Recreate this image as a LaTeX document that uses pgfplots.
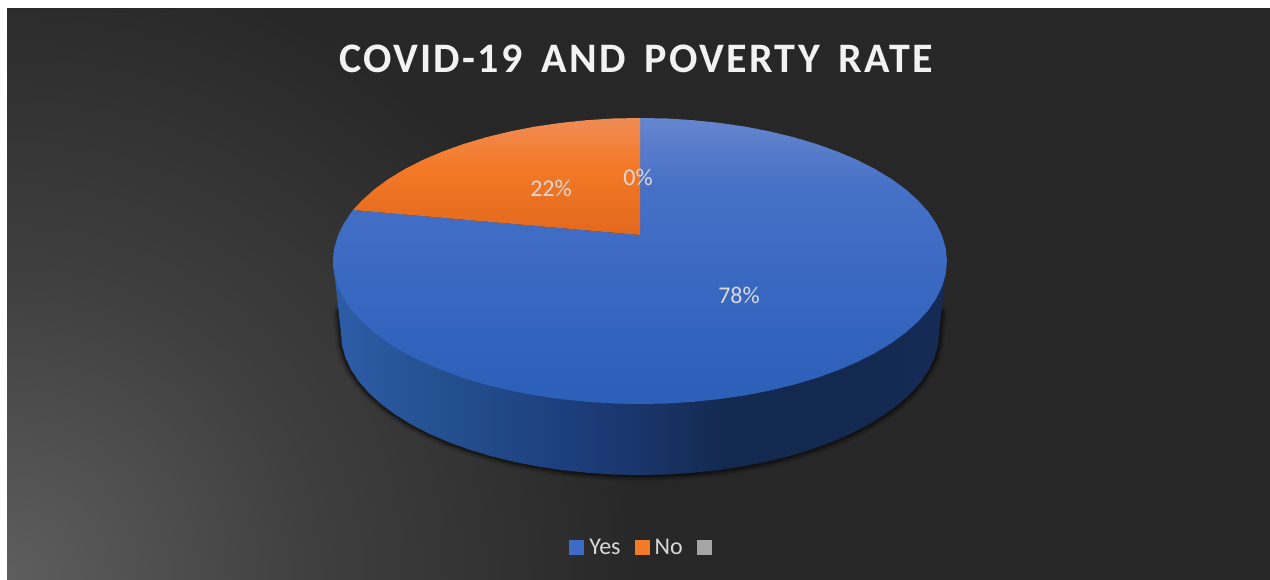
\documentclass[border=0pt]{standalone}
\usepackage{pgfplots}
\pgfplotsset{compat=1.18}
\usepackage{fontspec}
\setmainfont{Carlito}
\newfontfamily\titlefont[LetterSpace=5.5,WordSpace=1.6]{Carlito}
\newcommand{\blankentry}{\mbox{}}
\newcommand{\legfont}{\fontsize{24}{28}\selectfont}
\definecolor{bgdark}{HTML}{272727}
\definecolor{lbl}{HTML}{D9D9D9}
\definecolor{legB}{HTML}{3E6CC4}
\definecolor{legO}{HTML}{F47A28}
\definecolor{legG}{HTML}{A5A5A5}
\definecolor{glA}{HTML}{5E5E5E}
\definecolor{glB}{HTML}{3F3F3F}
\definecolor{glC}{HTML}{272727}
\pgfdeclareradialshading{bgglowb}{\pgfpointorigin}{color(0bp)=(glA);color(12bp)=(glB);color(25bp)=(glC);color(50bp)=(glC)}
\definecolor{btA}{HTML}{6685CE}
\definecolor{btB}{HTML}{4570C6}
\definecolor{btC}{HTML}{3C6AC3}
\definecolor{btD}{HTML}{2B5FB8}
\pgfdeclareverticalshading{bluetop}{100bp}{color(0bp)=(btD);color(25bp)=(btD);color(50bp)=(btC);color(62.5bp)=(btB);color(75bp)=(btA);color(100bp)=(btA)}
\definecolor{otA}{HTML}{EF8C55}
\definecolor{otB}{HTML}{F47A28}
\definecolor{otC}{HTML}{E2681C}
\pgfdeclareverticalshading{orangetop}{100bp}{color(0bp)=(otC);color(25bp)=(otC);color(55bp)=(otB);color(75bp)=(otA);color(100bp)=(otA)}
\definecolor{wA}{HTML}{2D5DA8}
\definecolor{wB}{HTML}{24508F}
\definecolor{wC}{HTML}{1E4080}
\definecolor{wD}{HTML}{19356A}
\definecolor{wE}{HTML}{14294F}
\definecolor{wF}{HTML}{152B57}
\pgfdeclarehorizontalshading{wall}{100bp}{color(0bp)=(wA);color(25bp)=(wA);color(34bp)=(wB);color(43bp)=(wC);color(50bp)=(wD);color(57bp)=(wE);color(68bp)=(wE);color(75bp)=(wF);color(100bp)=(wF)}
\pgfplotsset{squarelegend/.style={legend image code/.code={\fill[##1, draw=none] (0pt,-7.5pt) rectangle (15pt,7.5pt);}}}
\pgfplotstableread{
x y
339 312
341 333
342.1 345.4
345.5 357.7
351.2 369.8
359 381.6
369 393
381.1 404
395.1 414.4
411 424.3
428.6 433.4
447.8 441.8
468.5 449.3
490.5 456
513.6 461.7
537.7 466.4
562.6 470.2
588.1 472.8
613.9 474.5
640 475
666.1 474.5
691.9 472.8
717.4 470.2
742.3 466.4
766.4 461.7
789.5 456
811.5 449.3
832.2 441.8
851.4 433.4
869 424.3
884.9 414.4
898.9 404
911 393
921 381.6
928.8 369.8
934.5 357.7
937.9 345.4
939 333
941 312
}\shadowpts
\pgfplotstableread{
x y
333 261
341 333
342.1 345.4
345.5 357.7
351.2 369.8
359 381.6
369 393
381.1 404
395.1 414.4
411 424.3
428.6 433.4
447.8 441.8
468.5 449.3
490.5 456
513.6 461.7
537.7 466.4
562.6 470.2
588.1 472.8
613.9 474.5
640 475
666.1 474.5
691.9 472.8
717.4 470.2
742.3 466.4
766.4 461.7
789.5 456
811.5 449.3
832.2 441.8
851.4 433.4
869 424.3
884.9 414.4
898.9 404
911 393
921 381.6
928.8 369.8
934.5 357.7
937.9 345.4
939 333
947 261
}\wallpts
\pgfplotstableread{
x y
640 235
640 118
666.8 118.5
693.3 120.2
719.5 122.9
745 126.6
769.7 131.4
793.5 137.2
816.1 143.9
837.3 151.5
857.1 159.9
875.2 169.1
891.5 179
905.9 189.5
918.2 200.6
928.5 212.1
936.5 224
942.3 236.2
945.8 248.5
947 261
945.8 273.5
942.3 285.8
936.5 298
928.5 309.9
918.2 321.4
905.9 332.5
891.5 343
875.2 352.9
857.1 362.1
837.3 370.5
816.1 378.1
793.5 384.8
769.7 390.6
745 395.4
719.5 399.1
693.3 401.8
666.8 403.5
640 404
613.2 403.5
586.7 401.8
560.5 399.1
535 395.4
510.3 390.6
486.5 384.8
463.9 378.1
442.7 370.5
422.9 362.1
404.8 352.9
388.5 343
374.1 332.5
361.8 321.4
351.5 309.9
343.5 298
337.7 285.8
334.2 273.5
333 261
334.2 248.5
337.7 236.2
343.5 224
351.5 212.1
353 210
}\bluepts
\pgfplotstableread{
x y
640 235
353 210
361.8 200.6
374.1 189.5
388.5 179
404.8 169.1
422.9 159.9
442.7 151.5
463.9 143.9
486.5 137.2
510.3 131.4
535 126.6
560.5 122.9
586.7 120.2
613.2 118.5
640 118
}\orangepts
\begin{document}
\begin{tikzpicture}
\begin{axis}[
  at={(0,0)}, anchor=south west,
  scale only axis, width=1270pt, height=580pt,
  xmin=0, xmax=1270, ymin=0, ymax=580, y dir=reverse,
  hide axis, clip=false, no markers,
  legend columns=3,
  legend cell align=left,
  legend style={draw=none, fill=none, at={(0.5071,0.0552)}, anchor=center,
    inner sep=0pt, outer sep=0pt,
    font=\legfont, text=lbl,
    /tikz/every even column/.style={column sep=12pt},
    /tikz/every odd column/.style={column sep=3pt}},
]
\fill[white] (axis cs:0,0) rectangle (axis cs:1270,580);
\fill[bgdark] (axis cs:7,8) rectangle (axis cs:1270,580);
\begin{scope}
\clip (axis cs:7,10) rectangle (axis cs:1270,580);
\shade[shading=bgglowb] (axis cs:7,580) circle [radius=640pt];
\end{scope}
% soft shadow under the wall
\addplot[forget plot, draw=black, opacity=.08, line width=13pt, line join=round, line cap=round] table[x=x,y=y] {\shadowpts};
\addplot[forget plot, draw=black, opacity=.18, line width=9pt, line join=round, line cap=round] table[x=x,y=y] {\shadowpts};
\addplot[forget plot, draw=black, opacity=.35, line width=5pt, line join=round, line cap=round] table[x=x,y=y] {\shadowpts};
\addplot[forget plot, draw=none, shade, shading=wall] table[x=x,y=y] {\wallpts};
\addplot[forget plot, draw=none, shade, shading=bluetop] table[x=x,y=y] {\bluepts};
\addplot[forget plot, draw=none, shade, shading=orangetop] table[x=x,y=y] {\orangepts};
\node[text=lbl, font=\legfont] at (axis cs:739,295) {78\%};
\node[text=lbl, font=\legfont] at (axis cs:551,188) {22\%};
\node[text=lbl, font=\legfont] at (axis cs:638,177) {0\%};
\node[text=white!95!black, font=\titlefont\fontsize{42}{48}\bfseries\selectfont] at (axis cs:636,59) {COVID-19 AND POVERTY RATE};
\addlegendimage{squarelegend, fill=legB}
\addlegendentry{Yes}
\addlegendimage{squarelegend, fill=legO}
\addlegendentry{No}
\addlegendimage{squarelegend, fill=legG}
\addlegendentry{\blankentry}
\end{axis}
\end{tikzpicture}
\end{document}
